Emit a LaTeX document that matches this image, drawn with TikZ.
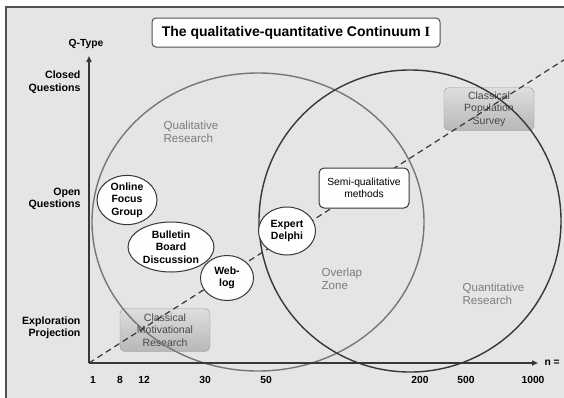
\documentclass[tikz,border=0pt]{standalone}
\usepackage{fontspec}
\setmainfont{Liberation Sans}
\newfontfamily\romanI{Liberation Serif}
\usetikzlibrary{positioning,shapes.geometric,arrows.meta}
\definecolor{qqback}{RGB}{229,229,229}
\definecolor{qqframe}{RGB}{80,80,80}
\definecolor{qqlight}{RGB}{118,118,118}
\definecolor{qqdark}{RGB}{55,55,55}
\definecolor{qqtext}{RGB}{125,125,125}

\begin{document}
\begin{tikzpicture}[x=1pt, y=-1pt, every node/.style={align=center},
    axis/.style={draw=qqdark, line width=1.6pt, -{Triangle[length=6pt,width=5pt]}},
    axislabel/.style={font=\fontsize{10.6}{12.5}\selectfont\bfseries, align=right, anchor=east},
    ticklabel/.style={font=\fontsize{10.3}{12}\selectfont\bfseries},
    zonelabel/.style={font=\fontsize{11.6}{13.5}\selectfont, text=qqtext, align=left, anchor=west},
    method/.style={draw=qqdark, ellipse, fill=white!96!qqback, line width=1pt, inner sep=0pt, font=\fontsize{10.5}{12.5}\selectfont\bfseries},
    graybox/.style={draw=black!40, rounded corners=5pt, top color=black!13, bottom color=black!28, minimum width=90pt, minimum height=43pt, text=black!72, font=\fontsize{10.5}{12.5}\selectfont},
    whitebox/.style={draw=qqdark, rounded corners=5pt, fill=white!97!qqback, line width=1pt, minimum width=90pt, minimum height=40pt, font=\fontsize{10.3}{12.5}\selectfont}]
  \useasboundingbox (0,0) rectangle (564,397);
  \fill[white] (0,0) rectangle (564,397);
  \draw[qqframe, line width=1.5pt, fill=qqback] (6,7) rectangle (590,420);

  % title
  \node[draw=qqframe, rounded corners=4pt, fill=white, line width=1pt, minimum width=288pt, minimum height=29pt, font=\fontsize{14}{16}\selectfont\bfseries] (title) at (296,32.5) {The qualitative-quantitative Continuum {\romanI I}};

  % boxes lying under the lines
  \node[graybox] (motiv) at (165,330) {Classical\\Motivational\\Research};
  \node[graybox] (survey) at (489,109) {Classical\\Population\\Survey};

  % research zones
  \draw[qqlight, line width=1.4pt] (258,222) ellipse [x radius=166, y radius=149];
  \draw[qqdark, line width=1.4pt] (410,221) circle [radius=151];
  \node[zonelabel] (qual) at (160,132) {Qualitative\\Research};
  \node[zonelabel] (overlap) at (318,279) {Overlap\\Zone};
  \node[zonelabel] (quant) at (459,294) {Quantitative\\Research};

  % axes
  \coordinate (origin) at (89,363);
  \coordinate (qtop) at (89,56);
  \coordinate (nend) at (538,363);
  \coordinate (diagend) at (570,56);
  \draw[qqdark, line width=1.2pt, dash pattern=on 6pt off 4pt] (origin) -- (diagend);
  \draw[axis] (origin) -- (qtop);
  \draw[axis] (origin) -- (nend);
  \node[ticklabel, above=4pt of qtop, xshift=-3pt] (qtype) {Q-Type};
  \node[ticklabel, right=3pt of nend] (neq) {n =};
  \node[axislabel] (closed) at (84,82) {Closed\\Questions};
  \node[axislabel] (open) at (84,199) {Open\\Questions};
  \node[axislabel] (explor) at (84,328) {Exploration\\Projection};
  \foreach \n/\x in {1/93, 8/120, 12/144, 30/205, 50/266, 200/420, 500/466, 1000/533}
    \node[ticklabel] (tick\n) at (\x,380) {\n};

  % methods
  \node[method, minimum width=60pt, minimum height=48pt] (online) at (127,200) {Online\\Focus\\Group};
  \node[method, minimum width=86pt, minimum height=50pt] (bulletin) at (171,247) {Bulletin\\Board\\Discussion};
  \node[method, minimum width=53pt, minimum height=45pt] (weblog) at (227,278) {Web-\\log};
  \node[method, minimum width=57pt, minimum height=48pt] (delphi) at (287,231) {Expert\\Delphi};
  \node[whitebox] (semi) at (364,188) {Semi-qualitative\\methods};
\end{tikzpicture}
\end{document}
